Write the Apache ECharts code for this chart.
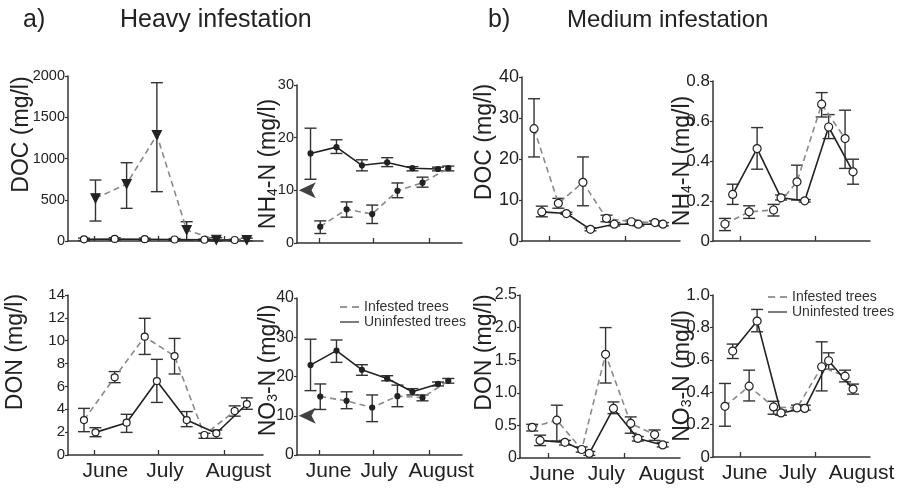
<!DOCTYPE html>
<html>
<head>
<meta charset="utf-8">
<script src="https://cdn.jsdelivr.net/npm/echarts@6/dist/echarts.min.js"></script>
<style>
  html, body { margin: 0; padding: 0; background: #fff; }
  #chart { width: 904px; height: 492px; }
</style>
</head>
<body>
<div id="chart"></div>
<script>
// Sampling dates, in days after 1 June
const heavyDatesEarly = [-5, 9.4, 23.5, 37.5, 51.5, 65.7];
const heavyDatesLate = [0.4, 15, 29.2, 43.2, 57.1, 71.4];
const mediumDatesInfested = [-6.2, 3.5, 13.3, 22.7, 32.6, 42];
const mediumDatesUninfested = [-3.1, 6.7, 16.3, 25.8, 35.4, 45.2];

// Month ticks (start of month) and month label positions
const monthNames = ['June', 'July', 'August'];
const monthStarts = [0, 30, 61];
const heavyMonthLabelAt = [5, 33, 67.5];
const mediumMonthLabelAt = [1.7, 23, 48.6];

// Each entry: [mean, lower error, upper error]
// a) Heavy infestation
const docHeavyInfested = [[517, 242, 739], [691, 396, 949], [1285, 598, 1919], [133, 12, 234], [15, 2, 40], [12, 2, 35]];
const docHeavyUninfested = [[20, 5, 35], [25, 10, 40], [22, 8, 36], [18, 5, 30], [15, 5, 25], [12, 4, 20]];
const nh4HeavyInfested = [[3.1, 1.8, 4.2], [6.4, 4.9, 7.8], [5.5, 3.7, 7.2], [9.9, 8.6, 11.4], [11.45, 10.6, 12.5], [14.2, 13.7, 14.6]];
const nh4HeavyUninfested = [[17.0, 12.1, 21.8], [18.2, 17.0, 19.6], [14.75, 13.7, 15.8], [15.3, 14.5, 16.2], [14.2, 13.7, 14.5], [14.05, 13.7, 14.4]];
const donHeavyInfested = [[3.06, 2.04, 4.08], [6.8, 6.33, 7.3], [10.35, 8.8, 11.96], [8.66, 7.09, 10.2], [1.75, 1.46, 1.9], [3.85, 3.4, 4.3]];
const donHeavyUninfested = [[1.98, 1.6, 2.39], [2.83, 1.98, 3.56], [6.47, 4.6, 8.37], [3.06, 2.48, 3.8], [1.9, 1.46, 2.19], [4.46, 4.0, 5.0]];
const no3HeavyInfested = [[14.9, 11.6, 18.1], [13.8, 11.8, 16.1], [12.1, 8.5, 15.3], [15.0, 12.3, 17.8], [14.6, 13.8, 15.3], [18.9, 18.3, 19.5]];
const no3HeavyUninfested = [[22.9, 16.4, 29.5], [26.6, 23.6, 29.3], [21.7, 20.3, 23.0], [19.5, 18.9, 20.2], [16.1, 15.3, 16.9], [18.1, 17.6, 18.6]];
const heavyThreshold = 10;

// b) Medium infestation
const docMediumInfested = [[27.4, 20.5, 34.7], [9.2, 8.0, 10.4], [14.3, 8.6, 20.5], [5.5, 4.7, 6.3], [4.7, 4.3, 5.1], [4.5, 4.1, 4.9]];
const docMediumUninfested = [[7.1, 5.9, 8.5], [6.7, 6.5, 7.0], [2.85, 2.5, 3.2], [4.1, 3.7, 4.5], [4.1, 3.7, 4.5], [4.1, 3.7, 4.5]];
const nh4MediumInfested = [[0.085, 0.052, 0.113], [0.146, 0.113, 0.176], [0.155, 0.125, 0.183], [0.296, 0.205, 0.379], [0.684, 0.62, 0.742], [0.512, 0.363, 0.654]];
const nh4MediumUninfested = [[0.233, 0.183, 0.284], [0.462, 0.359, 0.567], [0.216, 0.205, 0.23], [0.201, 0.195, 0.207], [0.57, 0.512, 0.632], [0.346, 0.284, 0.409]];
const donMediumInfested = [[0.47, 0.415, 0.517], [0.58, 0.26, 0.81], [0.13, 0.09, 0.17], [1.59, 1.15, 2.0], [0.53, 0.38, 0.63], [0.36, 0.27, 0.43]];
const donMediumUninfested = [[0.27, 0.19, 0.35], [0.24, 0.2, 0.27], [0.07, 0.04, 0.1], [0.76, 0.68, 0.86], [0.3, 0.26, 0.33], [0.2, 0.17, 0.24]];
const no3MediumInfested = [[0.313, 0.19, 0.454], [0.437, 0.346, 0.536], [0.309, 0.264, 0.344], [0.303, 0.289, 0.32], [0.557, 0.408, 0.711], [0.499, 0.464, 0.536]];
const no3MediumUninfested = [[0.654, 0.608, 0.697], [0.839, 0.773, 0.911], [0.272, 0.258, 0.289], [0.3, 0.289, 0.32], [0.594, 0.542, 0.643], [0.419, 0.388, 0.45]];

const FONT = '"Liberation Sans", Arial, Helvetica, sans-serif';
const INK = '#222';
const DASH_COLOR = '#8a8a8a';

const heavyDomain = { min: -12.5, max: 79, ticks: monthStarts, labelAt: heavyMonthLabelAt };
const mediumDomain = { min: -11, max: 52, ticks: monthStarts.slice(0, 2), labelAt: mediumMonthLabelAt };

const closedCircle = { symbol: 'circle', size: 5, fill: INK };
const openCircle = { symbol: 'circle', size: 7, fill: '#fff' };
const openCircleLarge = { symbol: 'circle', size: 8, fill: '#fff' };
const downTriangle = { symbol: 'triangle', size: 9, fill: INK, rotate: 180 };

const subRich = {
  t: { fontSize: 23, lineHeight: 28, verticalAlign: 'bottom', fontFamily: FONT, color: INK },
  s: { fontSize: 14, lineHeight: 14, verticalAlign: 'bottom', fontFamily: FONT, color: INK }
};

// Panel layout: [left, top, width, height] of each plot area
const panels = [
  { box: [68, 76, 195, 165], dom: heavyDomain, yMax: 2000, yStep: 500, name: 'DOC (mg/l)', gap: 35, shift: 24, tickFont: 14.5,
    inf: { dates: heavyDatesLate, vals: docHeavyInfested, mark: downTriangle },
    un: { dates: heavyDatesEarly, vals: docHeavyUninfested, mark: openCircle } },
  { box: [297, 85, 165, 158], dom: heavyDomain, yMax: 30, yStep: 10, name: '{t|NH}{s|4}{t|-N (mg/l)}', gap: 17, shift: 0, tickFont: 14.5, arrow: true,
    inf: { dates: heavyDatesLate, vals: nh4HeavyInfested, mark: closedCircle },
    un: { dates: heavyDatesEarly, vals: nh4HeavyUninfested, mark: closedCircle } },
  { box: [522, 77, 158, 164], dom: mediumDomain, yMax: 40, yStep: 10, name: 'DOC (mg/l)', gap: 26, shift: 17, tickFont: 18,
    inf: { dates: mediumDatesInfested, vals: docMediumInfested, mark: openCircleLarge },
    un: { dates: mediumDatesUninfested, vals: docMediumUninfested, mark: openCircleLarge } },
  { box: [713, 81, 157, 160], dom: mediumDomain, yMax: 0.8, yStep: 0.2, name: '{t|NH}{s|4}{t|-N (mg/l)}', gap: 19, shift: 0, tickFont: 17, dec: true,
    inf: { dates: mediumDatesInfested, vals: nh4MediumInfested, mark: openCircleLarge },
    un: { dates: mediumDatesUninfested, vals: nh4MediumUninfested, mark: openCircleLarge } },
  { box: [68, 295, 195, 160], dom: heavyDomain, yMax: 14, yStep: 2, name: 'DON (mg/l)', gap: 41, shift: 23, tickFont: 15, bottom: true,
    inf: { dates: heavyDatesEarly, vals: donHeavyInfested, mark: openCircle },
    un: { dates: heavyDatesLate, vals: donHeavyUninfested, mark: openCircle } },
  { box: [297, 298, 165, 157], dom: heavyDomain, yMax: 40, yStep: 10, name: '{t|NO}{s|3}{t|-N (mg/l)}', gap: 17, shift: 6, tickFont: 16, bottom: true, arrow: true,
    inf: { dates: heavyDatesLate, vals: no3HeavyInfested, mark: closedCircle },
    un: { dates: heavyDatesEarly, vals: no3HeavyUninfested, mark: closedCircle } },
  { box: [520, 295, 160, 163], dom: mediumDomain, yMax: 2.5, yStep: 0.5, name: 'DON (mg/l)', gap: 24, shift: 24, tickFont: 16, bottom: true, dec: true,
    inf: { dates: mediumDatesInfested, vals: donMediumInfested, mark: openCircleLarge },
    un: { dates: mediumDatesUninfested, vals: donMediumUninfested, mark: openCircleLarge } },
  { box: [713, 295, 157, 162], dom: mediumDomain, yMax: 1.0, yStep: 0.2, name: '{t|NO}{s|3}{t|-N (mg/l)}', gap: 19, shift: 0, tickFont: 17, bottom: true, dec: true,
    inf: { dates: mediumDatesInfested, vals: no3MediumInfested, mark: openCircleLarge },
    un: { dates: mediumDatesUninfested, vals: no3MediumUninfested, mark: openCircleLarge } }
];

const grids = [], xAxes = [], yAxes = [];
const series = [
  // legend entries
  { type: 'line', name: 'Infested trees', data: [], symbol: 'none', xAxisIndex: 0, yAxisIndex: 0,
    lineStyle: { color: '#333', width: 1.6, type: [6, 4] }, itemStyle: { color: '#333' } },
  { type: 'line', name: 'Uninfested trees', data: [], symbol: 'none', xAxisIndex: 0, yAxisIndex: 0,
    lineStyle: { color: INK, width: 1.6 }, itemStyle: { color: INK } }
];

function errorBars(idx, dates, vals) {
  return {
    type: 'custom', xAxisIndex: idx, yAxisIndex: idx, z: 2, silent: true,
    data: dates.map((d, i) => [d, vals[i][1], vals[i][2]]),
    encode: { x: 0, y: [1, 2] },
    renderItem: (params, api) => {
      const lo = api.coord([api.value(0), api.value(1)]);
      const hi = api.coord([api.value(0), api.value(2)]);
      const hw = 6;
      const style = { stroke: '#333', lineWidth: 1.4, fill: null };
      return {
        type: 'group',
        children: [
          { type: 'line', shape: { x1: lo[0], y1: lo[1], x2: hi[0], y2: hi[1] }, style },
          { type: 'line', shape: { x1: lo[0] - hw, y1: lo[1], x2: lo[0] + hw, y2: lo[1] }, style },
          { type: 'line', shape: { x1: hi[0] - hw, y1: hi[1], x2: hi[0] + hw, y2: hi[1] }, style }
        ]
      };
    }
  };
}

function meanLine(idx, s, dashed) {
  return {
    type: 'line', xAxisIndex: idx, yAxisIndex: idx, z: 4, silent: true,
    data: s.dates.map((d, i) => [d, s.vals[i][0]]),
    symbol: s.mark.symbol, symbolSize: s.mark.size, symbolRotate: s.mark.rotate || 0,
    showAllSymbol: true,
    itemStyle: { color: s.mark.fill, borderColor: INK, borderWidth: 1.2 },
    lineStyle: dashed ? { color: DASH_COLOR, width: 1.6, type: [6, 4] } : { color: INK, width: 1.6 }
  };
}

const monthName = (labelAt, v) => {
  const i = labelAt.findIndex(a => Math.abs(a - v) < 1e-6);
  return i >= 0 ? monthNames[i] : '';
};

panels.forEach((p, idx) => {
  grids.push({ left: p.box[0], top: p.box[1], width: p.box[2], height: p.box[3], containLabel: false });
  xAxes.push({
    type: 'value', gridIndex: idx, min: p.dom.min, max: p.dom.max,
    axisLine: { show: true, onZero: false, lineStyle: { color: '#333', width: 1.5 } },
    splitLine: { show: false },
    axisTick: { show: true, inside: true, length: 5, customValues: p.dom.ticks, lineStyle: { color: '#333', width: 1.3 } },
    axisLabel: p.bottom
      ? { show: true, customValues: p.dom.labelAt, formatter: v => monthName(p.dom.labelAt, v),
          fontSize: 21, color: INK, fontFamily: FONT, margin: 6 }
      : { show: false }
  });
  yAxes.push({
    type: 'value', gridIndex: idx, min: 0, max: p.yMax, interval: p.yStep,
    axisLine: { show: true, onZero: false, lineStyle: { color: '#333', width: 1.5 } },
    splitLine: { show: false },
    axisTick: { show: true, length: 3, lineStyle: { color: '#333', width: 1.2 } },
    axisLabel: { fontSize: p.tickFont, color: INK, fontFamily: FONT, margin: 3,
      formatter: v => (p.dec ? (v === 0 ? '0' : v.toFixed(1)) : String(v)) },
    name: p.name, nameLocation: 'middle', nameGap: p.gap, nameRotate: 90, nameMoveOverlap: false,
    nameTextStyle: { fontSize: 23, color: INK, fontFamily: FONT, padding: [0, 0, 0, 2 * p.shift], rich: subRich }
  });
  series.push(errorBars(idx, p.inf.dates, p.inf.vals));
  series.push(errorBars(idx, p.un.dates, p.un.vals));
  series.push(meanLine(idx, p.inf, true));
  series.push(meanLine(idx, p.un, false));
  if (p.arrow) {
    series.push({
      type: 'scatter', xAxisIndex: idx, yAxisIndex: idx, z: 5, silent: true,
      data: [[p.dom.min + 1, heavyThreshold]],
      symbol: 'arrow', symbolSize: [12, 17], symbolRotate: 90,
      itemStyle: { color: '#111' }
    });
  }
});

const titleStyle = { fontSize: 25, fontWeight: 'normal', color: INK, fontFamily: FONT };
const legendBase = {
  data: [
    { name: 'Infested trees', icon: 'path://M0,0H6V1H0Z M10,0H16V1H10Z', itemStyle: { color: '#333' } },
    { name: 'Uninfested trees', icon: 'path://M0,0H16V1H0Z', itemStyle: { color: INK } }
  ],
  orient: 'vertical', selectedMode: false, padding: 0,
  itemWidth: 19, itemHeight: 2, itemGap: 1,
  textStyle: { fontSize: 14, color: '#333', fontFamily: FONT }
};

const chart = echarts.init(document.getElementById('chart'), null, { renderer: 'canvas' });
chart.setOption({
  animation: false,
  backgroundColor: '#fff',
  title: [
    { text: 'a)', left: 18, top: 3, textStyle: titleStyle },
    { text: 'Heavy infestation', left: 115, top: 3, textStyle: titleStyle },
    { text: 'b)', left: 483, top: 3, textStyle: titleStyle },
    { text: 'Medium infestation', left: 562, top: 3, textStyle: Object.assign({}, titleStyle, { fontSize: 24 }) }
  ],
  legend: [
    Object.assign({ left: 340, top: 300 }, legendBase),
    Object.assign({ left: 768, top: 290 }, legendBase)
  ],
  grid: grids,
  xAxis: xAxes,
  yAxis: yAxes,
  series: series
});
</script>
</body>
</html>
